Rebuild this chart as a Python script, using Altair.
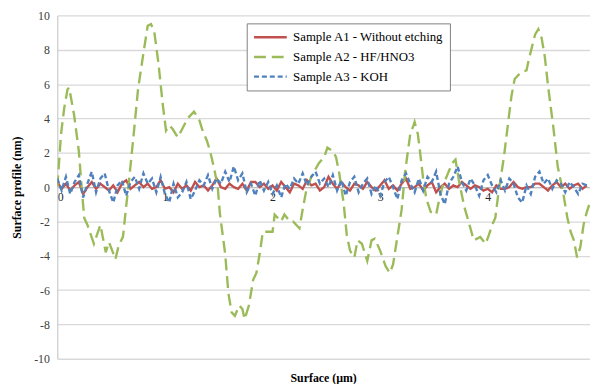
import altair as alt
import pandas as pd

series_names = ["Sample A1 - Without etching", "Sample A2 - HF/HNO3", "Sample A3 - KOH"]
series_colors = ["#c0504d", "#9bbb59", "#4f81bd"]

# Sample A1 (red) and A3 (blue): sampled every 0.04 µm
a1_y = [0.3, -0.1, 0.2, -0.2, 0.1, 0.3, -0.4, 0.0, 0.3, -0.1, 0.2, 0.0, -0.2, 0.1, -0.3, 0.2, 0.4, -0.1, 0.1, 0.3, 0.0, 0.2, -0.1, 0.0, 0.4,
        -0.1, 0.0, -0.3, 0.2, -0.1, 0.1, -0.2, 0.3, 0.0, 0.1, -0.2, 0.1, 0.5, 0.0, -0.1, 0.2, 0.0, -0.1, 0.2, -0.2, 0.3, 0.3, 0.0, 0.2, -0.1,
        0.1, -0.2, 0.3, 0.0, -0.3, 0.2, 0.1, -0.1, 0.4, 0.1, 0.2, -0.2, 0.0, 0.6, 0.2, -0.1, 0.3, 0.0, -0.2, 0.2, 0.1, -0.1, 0.3, 0.0, -0.2,
        0.1, 0.4, -0.1, 0.1, -0.2, 0.2, 0.5, -0.1, 0.0, 0.2, -0.2, 0.1, 0.3, -0.3, 0.0, 0.2, -0.1, 0.1, 0.0, 0.3, 0.1, -0.1, 0.1, 0.0, -0.2,
        -0.1, -0.3, 0.1, -0.1, -0.1, 0.0, 0.3, 0.0, -0.1, 0.0, 0.0, 0.2, 0.2, 0.0, -0.2, 0.1, 0.3, 0.0, 0.2, -0.1, 0.1, 0.2, -0.1, 0.1]

a3_y = [0.5, -0.2, 0.6, -0.4, 0.3, 0.7, -0.6, 0.2, 0.9, -0.3, 0.5, 0.8, -0.2, -0.9, 0.1, 0.4, -0.5, 0.3, 0.6, -0.1, 0.8, 0.2, 0.5, -0.3, 0.6,
        -0.4, -0.9, 0.2, -0.6, -0.3, 0.3, -0.7, -0.2, 0.4, 0.1, 0.7, -0.1, 0.5, 0.2, 0.9, 0.3, 1.2, 0.4, 0.8, -0.3, 0.2, -0.5, 0.4, -0.2, 0.3,
        -0.4, 0.1, -0.6, 0.2, -0.1, 0.5, 0.2, 0.8, 0.1, 0.6, 0.9, 0.2, 0.5, 0.0, 0.7, -0.2, 0.4, -0.5, 0.3, 0.6, -0.3, 0.2, 0.5, -0.4, 0.1,
        -0.5, 0.3, 0.6, 0.0, -0.7, 0.4, 0.8, 0.2, -0.3, 0.5, -0.2, 0.6, 0.3, 0.9, -0.4, -1.0, 0.2, 0.6, 1.2, 0.3, -0.2, 0.5, 0.1, -0.5, 0.4,
        0.7, 0.1, -0.3, 0.4, -0.2, 0.5, 0.2, -0.6, -0.9, 0.1, -0.4, 0.6, 0.9, 0.2, 0.5, -0.1, 0.4, 0.2, -0.3, 0.3, 0.0, -0.4, 0.2, 0.1]

grid_x = [round(i * 0.04, 2) for i in range(len(a1_y))]

# Sample A2 (green)
a2_x = [0.0, 0.034, 0.064, 0.095, 0.11, 0.156, 0.2, 0.23, 0.25, 0.28, 0.34, 0.4, 0.45, 0.48, 0.54, 0.57, 0.61, 0.64, 0.66, 0.71,
        0.75, 0.8, 0.84, 0.87, 0.9, 0.94, 0.98, 1.01, 1.04, 1.07, 1.12, 1.17, 1.21, 1.27, 1.32, 1.35, 1.39, 1.42, 1.46, 1.49,
        1.51, 1.56, 1.59, 1.62, 1.65, 1.69, 1.72, 1.74, 1.78, 1.82, 1.85, 1.88, 1.91, 1.96, 2.0, 2.02, 2.08, 2.11, 2.16, 2.19,
        2.25, 2.28, 2.31, 2.36, 2.43, 2.48, 2.51, 2.56, 2.59, 2.62, 2.66, 2.69, 2.72, 2.76, 2.79, 2.83, 2.88, 2.92, 2.95, 3.0,
        3.05, 3.09, 3.12, 3.15, 3.2, 3.23, 3.28, 3.31, 3.32, 3.35, 3.37, 3.4, 3.43, 3.47, 3.52, 3.55, 3.58, 3.63, 3.67, 3.7,
        3.73, 3.78, 3.83, 3.87, 3.93, 3.98, 4.01, 4.04, 4.07, 4.1, 4.15, 4.19, 4.22, 4.25, 4.28, 4.31, 4.36, 4.38, 4.41, 4.44,
        4.47, 4.5, 4.53, 4.56, 4.61, 4.65, 4.7, 4.74, 4.77, 4.8, 4.83, 4.86, 4.89, 4.92, 4.95]
a2_y = [0.0, 3.07, 4.6, 5.7, 5.8, 4.2, 2.1, -0.3, -1.8, -2.2, -3.3, -2.2, -3.8, -3.2, -4.2, -3.4, -2.9, -1.1, 0.0, 3.1,
        5.7, 7.8, 9.4, 9.5, 9.1, 7.2, 4.8, 3.3, 3.6, 3.4, 2.9, 3.5, 4.0, 4.4, 3.9, 3.3, 2.7, 2.1, 1.0, 0.05,
        -1.5, -3.9, -6.2, -7.3, -7.5, -6.9, -7.1, -7.7, -6.9, -5.4, -5.0, -3.9, -2.6, -2.6, -2.6, -1.6, -2.0, -1.6, -2.0, -2.0,
        -2.4, -1.3, -0.3, 0.6, 1.4, 1.75, 2.3, 2.1, 1.75, 0.8, -0.9, -2.8, -3.7, -4.1, -3.1, -3.3, -4.3, -3.1, -3.0, -3.7,
        -4.6, -5.0, -4.5, -3.3, -1.3, 0.8, 3.1, 3.6, 3.8, 3.1, 2.1, 0.45, -0.7, -1.45, -1.6, -0.7, 0.05, 0.8, 1.4, 1.6,
        0.45, -1.1, -2.2, -3.1, -2.9, -3.3, -2.8, -2.2, -1.8, -0.3, 1.75, 3.8, 5.3, 6.3, 6.5, 6.7, 6.8, 7.4, 8.15, 8.9,
        9.2, 8.7, 7.6, 5.9, 3.45, 1.2, -0.3, -1.8, -2.6, -3.1, -4.1, -3.5, -2.2, -1.45, -0.9]

x_ticks = [0, 1, 2, 3, 4]
y_ticks = [-10, -8, -6, -4, -2, 0, 2, 4, 6, 8, 10]

rows = []
for x, y in zip(grid_x, a1_y):
    rows.append({"x": x, "y": y, "series": series_names[0]})
for x, y in zip(a2_x, a2_y):
    rows.append({"x": x, "y": y, "series": series_names[1]})
for x, y in zip(grid_x, a3_y):
    rows.append({"x": x, "y": y, "series": series_names[2]})
df = pd.DataFrame(rows)

FONT = "Liberation Serif"

chart = alt.Chart(df).mark_line(strokeWidth=2.4, clip=True).encode(
    x=alt.X("x:Q",
            scale=alt.Scale(domain=[0, 4.95], nice=False, zero=False),
            axis=alt.Axis(values=x_ticks, title=None, grid=False, ticks=False,
                          offset=-174, labelPadding=5, labelFontSize=12,
                          labelFont=FONT, labelColor="#262626",
                          labelExpr="'' + datum.value",
                          domainColor="#bfbfbf", domainWidth=1.2)),
    y=alt.Y("y:Q",
            scale=alt.Scale(domain=[-10, 10], nice=False),
            axis=alt.Axis(values=y_ticks, title="Surface profile (nm)", grid=True,
                          gridColor="#d9d9d9", gridWidth=1.3, ticks=False,
                          labelPadding=8, labelFontSize=12, labelFont=FONT,
                          labelColor="#404040", domainColor="#bfbfbf",
                          labelExpr="'' + datum.value",
                          titleFont=FONT, titleFontSize=12, titleFontWeight="bold",
                          titleColor="#000000", titlePadding=10)),
    color=alt.Color("series:N",
                    scale=alt.Scale(domain=series_names, range=series_colors),
                    title=None),
    strokeDash=alt.StrokeDash("series:N",
                              scale=alt.Scale(domain=series_names,
                                              range=[[1, 0], [12, 6], [5, 3]]),
                              title=None),
    detail="series:N",
    order="x:Q",
).properties(
    width=540, height=348,
    padding={"left": 50, "top": 5, "right": 0, "bottom": 23},
    autosize="none",
    title=alt.TitleParams("Surface (µm)", orient="bottom", anchor="middle",
                          font=FONT, fontSize=12, fontWeight="bold",
                          color="#000000", offset=9),
).configure_view(stroke=None).configure_legend(
    orient="none", legendX=192, legendY=8,
    strokeColor="#7f7f7f", fillColor="#ffffff", padding=6,
    labelFont=FONT, labelFontSize=13, labelColor="#000000",
    symbolType="stroke", symbolSize=1100, symbolStrokeWidth=2.5,
    clipHeight=16, rowPadding=4, labelOffset=5,
)

chart.save("out.html", embed_options={"renderer": "svg", "actions": False})
